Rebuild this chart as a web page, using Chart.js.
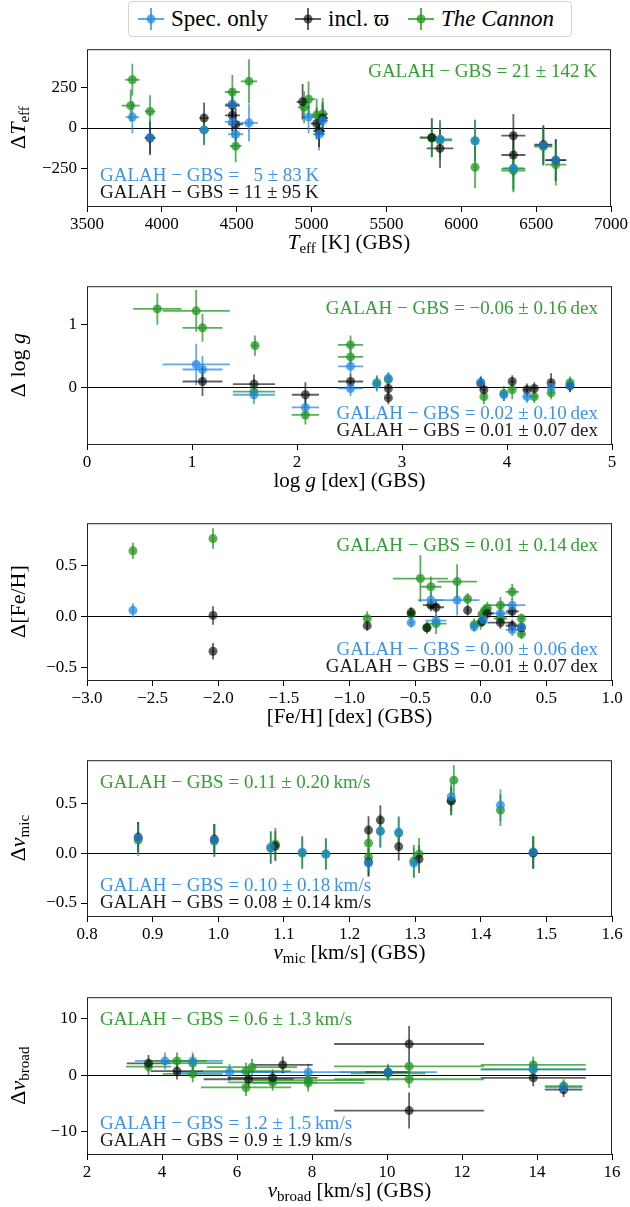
<!DOCTYPE html>
<html>
<head>
<meta charset="utf-8">
<script src="https://cdn.jsdelivr.net/npm/chart.js@4.4.0/dist/chart.umd.min.js"></script>
<style>
  body { margin: 0; background: #fff; width: 630px; height: 1207px; position: relative; overflow: hidden; font-family: "Liberation Serif", serif; }
  canvas { position: absolute; left: 0; }
  #legend { position: absolute; left: 128px; top: 1px; width: 442px; height: 34px; border: 1px solid #d4d4d4; border-radius: 4px; }
  .item { position: absolute; top: 0; height: 34px; display: flex; align-items: center; font-size: 23px; color: #000; }
  .item svg { margin-right: 6px; }
</style>
</head>
<body>
<div id="legend"></div>
<script>
// series names and colours
const seriesNames = ['Spec. only', 'incl. \u03d6', 'The Cannon'];
const seriesItalic = [false, false, true];
const markColors = ['rgba(30,136,229,0.72)', 'rgba(0,0,0,0.62)', 'rgba(34,150,34,0.75)'];
const textColors = ['#3d94e6', '#1a1a1a', '#33a033'];

// [x, y, xerr, yerr]
const teffSpec = [[3803, 68, 45, 100], [3921, -58, 35, 100], [4282, -12, 30, 95], [4471, 149, 45, 100], [4471, 38, 50, 100],
  [4493, -39, 50, 100], [4582, 32, 60, 115], [4980, 68, 45, 100], [5050, -39, 40, 100], [5074, 45, 35, 100],
  [5858, -70, 80, 120], [6092, -79, 10, 130], [6348, -250, 70, 130], [6548, -110, 60, 120], [6631, -200, 70, 130]];
const teffPlx = [[3921, -63, 35, 105], [4282, 62, 30, 97], [4471, 140, 50, 100], [4471, 79, 50, 100], [4493, 22, 50, 100],
  [4940, 163, 40, 110], [5034, 28, 40, 100], [5050, -18, 40, 100], [5074, 62, 35, 100], [5803, -59, 80, 120],
  [5858, -127, 89, 120], [6348, -48, 80, 135], [6348, -168, 80, 135], [6548, -103, 60, 120], [6631, -200, 70, 130]];
const teffCannon = [[3803, 300, 48, 100], [3792, 139, 60, 100], [3921, 103, 35, 100], [4282, -12, 30, 90], [4471, 224, 50, 106],
  [4493, -113, 40, 100], [4582, 290, 55, 138], [4950, 129, 40, 100], [4980, 179, 45, 110], [5034, 82, 40, 100],
  [5074, 88, 35, 100], [5803, -62, 80, 120], [5858, -77, 80, 120], [6092, -79, 10, 130], [6092, -244, 10, 130],
  [6348, -254, 80, 135], [6348, -265, 80, 135], [6548, -115, 60, 120], [6631, -228, 70, 130]];

const loggSpec = [[1.04, 0.36, 0.32, 0.33], [1.10, 0.28, 0.19, 0.22], [1.59, -0.12, 0.2, 0.15], [2.08, -0.32, 0.13, 0.15],
  [2.51, 0.33, 0.12, 0.12], [2.51, -0.02, 0.12, 0.12], [2.76, 0.05, 0.03, 0.12], [2.87, 0.14, 0.02, 0.1],
  [3.75, 0.08, 0.02, 0.1], [3.97, -0.12, 0.03, 0.1], [4.19, -0.15, 0.03, 0.1], [4.42, 0.0, 0.02, 0.1], [4.60, 0.03, 0.02, 0.1]];
const loggPlx = [[1.10, 0.09, 0.19, 0.23], [1.59, 0.05, 0.2, 0.15], [2.08, -0.12, 0.13, 0.2], [2.51, 0.09, 0.12, 0.12],
  [2.87, -0.02, 0.02, 0.1], [2.87, -0.17, 0.02, 0.1], [3.75, 0.06, 0.02, 0.1], [3.78, -0.04, 0.02, 0.1],
  [4.05, 0.09, 0.02, 0.1], [4.19, -0.04, 0.03, 0.1], [4.26, -0.02, 0.03, 0.1], [4.42, 0.07, 0.02, 0.15], [4.60, 0.02, 0.02, 0.1]];
const loggCannon = [[0.67, 1.24, 0.23, 0.25], [1.04, 1.21, 0.32, 0.33], [1.10, 0.94, 0.19, 0.22], [1.60, 0.66, 0.03, 0.16],
  [1.59, -0.07, 0.2, 0.12], [2.08, -0.44, 0.13, 0.15], [2.51, 0.67, 0.12, 0.15], [2.51, 0.48, 0.12, 0.12],
  [2.76, 0.07, 0.03, 0.12], [2.87, 0.12, 0.02, 0.1], [3.78, -0.15, 0.02, 0.12], [3.97, -0.1, 0.03, 0.12],
  [4.05, -0.04, 0.02, 0.15], [4.26, -0.15, 0.03, 0.1], [4.42, -0.09, 0.02, 0.1], [4.60, 0.07, 0.02, 0.1]];

const fehSpec = [[-2.65, 0.06, 0.01, 0.07], [-0.53, -0.06, 0.02, 0.05], [-0.38, 0.16, 0.1, 0.08], [-0.34, -0.04, 0.08, 0.06],
  [-0.18, 0.16, 0.17, 0.15], [-0.05, -0.10, 0.02, 0.05], [0.02, -0.03, 0.03, 0.05], [0.15, 0.03, 0.1, 0.06],
  [0.24, 0.11, 0.1, 0.06], [0.24, -0.13, 0.05, 0.06], [0.31, -0.1, 0.02, 0.05]];
const fehPlx = [[-2.04, 0.01, 0.01, 0.09], [-2.04, -0.34, 0.01, 0.08], [-0.865, -0.09, 0.01, 0.05], [-0.53, 0.04, 0.02, 0.05],
  [-0.41, -0.11, 0.02, 0.05], [-0.38, 0.11, 0.06, 0.06], [-0.34, 0.09, 0.06, 0.06], [-0.10, 0.06, 0.01, 0.05],
  [0.01, -0.05, 0.03, 0.05], [0.05, 0.03, 0.05, 0.05], [0.15, -0.06, 0.1, 0.06], [0.24, 0.05, 0.05, 0.06],
  [0.24, -0.09, 0.05, 0.06], [0.31, -0.11, 0.02, 0.05]];
const fehCannon = [[-2.65, 0.64, 0.01, 0.08], [-2.04, 0.76, 0.01, 0.1], [-0.865, -0.02, 0.01, 0.07], [-0.53, 0.02, 0.02, 0.05],
  [-0.46, 0.37, 0.21, 0.23], [-0.41, -0.11, 0.02, 0.06], [-0.38, 0.29, 0.08, 0.1], [-0.34, -0.07, 0.08, 0.1],
  [-0.18, 0.34, 0.15, 0.17], [-0.10, 0.17, 0.02, 0.06], [-0.05, -0.08, 0.02, 0.06], [0.00, -0.06, 0.03, 0.07],
  [0.01, 0.02, 0.03, 0.06], [0.03, 0.06, 0.03, 0.06], [0.05, 0.08, 0.03, 0.06], [0.15, 0.11, 0.1, 0.08],
  [0.15, -0.02, 0.05, 0.06], [0.24, 0.24, 0.05, 0.08], [0.31, -0.02, 0.02, 0.05], [0.31, -0.17, 0.02, 0.05]];

const vmicSpec = [[0.878, 0.15, 0, 0.16], [0.994, 0.13, 0, 0.16], [1.08, 0.06, 0, 0.16], [1.128, 0.01, 0, 0.16],
  [1.164, -0.01, 0, 0.16], [1.229, -0.10, 0, 0.14], [1.247, 0.22, 0, 0.17], [1.275, 0.21, 0, 0.16],
  [1.298, -0.10, 0, 0.15], [1.355, 0.565, 0, 0.15], [1.43, 0.48, 0, 0.16], [1.48, 0.01, 0, 0.16]];
const vmicPlx = [[0.878, 0.16, 0, 0.15], [0.994, 0.14, 0, 0.15], [1.087, 0.07, 0, 0.15], [1.229, 0.23, 0, 0.14],
  [1.229, -0.09, 0, 0.14], [1.247, 0.33, 0, 0.15], [1.275, 0.065, 0, 0.14], [1.306, -0.06, 0, 0.14],
  [1.355, 0.52, 0, 0.14], [1.48, 0.0, 0, 0.16]];
const vmicCannon = [[0.878, 0.13, 0, 0.16], [0.994, 0.12, 0, 0.16], [1.08, 0.05, 0, 0.16], [1.087, 0.09, 0, 0.16],
  [1.128, 0.0, 0, 0.16], [1.164, -0.01, 0, 0.15], [1.229, 0.10, 0, 0.15], [1.229, -0.04, 0, 0.15],
  [1.247, 0.22, 0, 0.16], [1.275, 0.20, 0, 0.16], [1.298, -0.08, 0, 0.16], [1.306, -0.01, 0, 0.16],
  [1.355, 0.53, 0, 0.15], [1.359, 0.73, 0, 0.15], [1.43, 0.43, 0, 0.16], [1.48, 0.01, 0, 0.16]];

const vbroadSpec = [[4.08, 2.5, 0.8, 1.5], [4.82, 2.5, 0.8, 1.5], [5.80, 0.5, 1.5, 1.5], [7.90, 0.5, 1.8, 1.5],
  [10.03, 0.5, 1.3, 1.5], [13.9, 1.0, 1.4, 1.5], [14.71, -2.2, 0.5, 1.2]];
const vbroadPlx = [[3.64, 2.07, 0.58, 1.5], [4.40, 0.7, 0.7, 1.5], [6.31, -0.75, 1.2, 1.5], [6.95, -0.5, 1.2, 1.5],
  [7.22, 1.8, 0.8, 1.5], [10.03, 0.5, 0.6, 1.2], [10.59, 5.5, 2.0, 3.2], [10.59, -6.3, 2.0, 3.2],
  [13.9, -0.5, 1.4, 1.5], [14.71, -2.6, 0.5, 1.3]];
const vbroadCannon = [[3.64, 1.5, 0.6, 1.5], [4.40, 2.5, 0.8, 1.5], [4.82, 2.1, 0.8, 1.5], [4.82, 0.2, 0.8, 1.5],
  [6.24, 0.7, 1.2, 1.5], [6.24, -2.2, 1.2, 1.5], [6.40, 1.4, 1.2, 1.5], [6.95, -1.3, 1.2, 1.5],
  [7.90, -0.9, 1.5, 1.5], [7.90, -1.4, 1.5, 1.5], [10.03, 0.3, 1.0, 1.2], [10.59, 1.55, 2.0, 1.5],
  [10.59, -0.75, 2.0, 1.5], [13.9, 1.8, 1.4, 1.5], [13.9, 1.0, 1.4, 1.5], [14.71, -1.95, 0.5, 1.2]];

// ticks
const teffTicksX = [3500, 4000, 4500, 5000, 5500, 6000, 6500, 7000];
const teffTicksY = [-250, 0, 250];
const loggTicksX = [0, 1, 2, 3, 4, 5];
const loggTicksY = [0, 1];
const fehTicksX = [-3.0, -2.5, -2.0, -1.5, -1.0, -0.5, 0.0, 0.5, 1.0];
const fehTicksY = [-0.5, 0.0, 0.5];
const vmicTicksX = [0.8, 0.9, 1.0, 1.1, 1.2, 1.3, 1.4, 1.5, 1.6];
const vmicTicksY = [-0.5, 0.0, 0.5];
const vbroadTicksX = [2, 4, 6, 8, 10, 12, 14, 16];
const vbroadTicksY = [-10, 0, 10];

// annotation texts: cannon, spec, plx
const teffNotes = ['GALAH \u2212 GBS = 21 \u00b1 142\u2009K', 'GALAH \u2212 GBS =   5 \u00b1 83\u2009K', 'GALAH \u2212 GBS = 11 \u00b1 95\u2009K'];
const loggNotes = ['GALAH \u2212 GBS = \u22120.06 \u00b1 0.16\u2009dex', 'GALAH \u2212 GBS = 0.02 \u00b1 0.10\u2009dex', 'GALAH \u2212 GBS = 0.01 \u00b1 0.07\u2009dex'];
const fehNotes = ['GALAH \u2212 GBS = 0.01 \u00b1 0.14\u2009dex', 'GALAH \u2212 GBS = 0.00 \u00b1 0.06\u2009dex', 'GALAH \u2212 GBS = \u22120.01 \u00b1 0.07\u2009dex'];
const vmicNotes = ['GALAH \u2212 GBS = 0.11 \u00b1 0.20\u2009km/s', 'GALAH \u2212 GBS = 0.10 \u00b1 0.18\u2009km/s', 'GALAH \u2212 GBS = 0.08 \u00b1 0.14\u2009km/s'];
const vbroadNotes = ['GALAH \u2212 GBS = 0.6 \u00b1 1.3\u2009km/s', 'GALAH \u2212 GBS = 1.2 \u00b1 1.5\u2009km/s', 'GALAH \u2212 GBS = 0.9 \u00b1 1.9\u2009km/s'];

const FONT = '"Liberation Serif", "DejaVu Serif", serif';

// legend
const legendEl = document.getElementById('legend');
[8, 165, 278].forEach((left, i) => {
  const it = document.createElement('div');
  it.className = 'item';
  it.style.left = left + 'px';
  const c = markColors[i];
  it.innerHTML = '<svg width="28" height="26"><line x1="1" y1="13" x2="27" y2="13" stroke="' + c + '" stroke-width="2"/>' +
    '<line x1="14" y1="2" x2="14" y2="24" stroke="' + c + '" stroke-width="2"/><circle cx="14" cy="13" r="4.5" fill="' + c + '"/></svg>' +
    '<span style="font-style:' + (seriesItalic[i] ? 'italic' : 'normal') + '">' + seriesNames[i] + '</span>';
  legendEl.appendChild(it);
});

function fmt(v, dec) {
  return (v < 0 ? '\u2212' : '') + Math.abs(v).toFixed(dec);
}

// rich text: parts = [[text, style]] with style '' | 'i' | 's'
function partFont(style, size) {
  if (style === 's') return Math.round(size * 0.7) + 'px ' + FONT;
  return (style === 'i' ? 'italic ' : '') + size + 'px ' + FONT;
}
function drawRich(ctx, parts, x, y, size, align) {
  let w = 0;
  parts.forEach(([t, s]) => { ctx.font = partFont(s, size); w += ctx.measureText(t).width; });
  let cx = align === 'center' ? x - w / 2 : (align === 'right' ? x - w : x);
  ctx.textAlign = 'left';
  ctx.textBaseline = 'middle';
  parts.forEach(([t, s]) => {
    ctx.font = partFont(s, size);
    ctx.fillText(t, cx, s === 's' ? y + size * 0.28 : y);
    cx += ctx.measureText(t).width;
  });
}

const errorBars = {
  id: 'errorBars',
  beforeDatasetsDraw(chart) {
    const { ctx, chartArea: a, scales: { x, y } } = chart;
    ctx.save();
    ctx.beginPath();
    ctx.rect(a.left, a.top, a.right - a.left, a.bottom - a.top);
    ctx.clip();
    // zero line
    const y0 = Math.round(y.getPixelForValue(0)) + 0.5;
    ctx.strokeStyle = '#000';
    ctx.lineWidth = 1.2;
    ctx.beginPath();
    ctx.moveTo(a.left, y0);
    ctx.lineTo(a.right, y0);
    ctx.stroke();
    chart.data.datasets.forEach(ds => {
      ctx.strokeStyle = ds.borderColor;
      ctx.lineWidth = 1.8;
      ds.data.forEach(p => {
        const px = x.getPixelForValue(p.x), py = y.getPixelForValue(p.y);
        ctx.beginPath();
        if (p.xe) {
          ctx.moveTo(x.getPixelForValue(p.x - p.xe), py);
          ctx.lineTo(x.getPixelForValue(p.x + p.xe), py);
        }
        if (p.ye) {
          ctx.moveTo(px, y.getPixelForValue(p.y - p.ye));
          ctx.lineTo(px, y.getPixelForValue(p.y + p.ye));
        }
        ctx.stroke();
      });
    });
    ctx.restore();
  }
};

const panelText = {
  id: 'panelText',
  afterDraw(chart) {
    const o = chart.options.plugins.panelText;
    const { ctx, chartArea: a } = chart;
    ctx.save();
    ctx.strokeStyle = '#222';
    ctx.lineWidth = 1;
    ctx.strokeRect(a.left + 0.5, a.top + 0.5, a.right - a.left - 1, a.bottom - a.top);
    ctx.fillStyle = '#000';
    drawRich(ctx, o.xTitle, (a.left + a.right) / 2, a.bottom + 37, 21, 'center');
    ctx.save();
    ctx.translate(19, (a.top + a.bottom) / 2);
    ctx.rotate(-Math.PI / 2);
    drawRich(ctx, o.yTitle, 0, 0, 22, 'center');
    ctx.restore();
    const gx = o.topAlign === 'right' ? a.right - 14 : a.left + 13;
    const bx = o.bottomAlign === 'right' ? a.right - 14 : a.left + 13;
    ctx.fillStyle = textColors[2];
    drawRich(ctx, [[o.notes[0], '']], gx, a.top + 23, 19, o.topAlign);
    ctx.fillStyle = textColors[0];
    drawRich(ctx, [[o.notes[1], '']], bx, a.bottom - 30, 19, o.bottomAlign);
    ctx.fillStyle = textColors[1];
    drawRich(ctx, [[o.notes[2], '']], bx, a.bottom - 13, 19, o.bottomAlign);
    ctx.restore();
  }
};

function makePanel(cfg) {
  const cv = document.createElement('canvas');
  const h = cfg.bottom - cfg.top + 65;
  cv.width = 630;
  cv.height = h;
  cv.style.top = (cfg.top - 10) + 'px';
  cv.style.width = '630px';
  cv.style.height = h + 'px';
  document.body.appendChild(cv);
  const tickFont = { family: FONT, size: 17 };
  new Chart(cv.getContext('2d'), {
    type: 'scatter',
    data: {
      datasets: cfg.series.map((arr, i) => ({
        label: seriesNames[i],
        data: arr.map(([x, y, xe, ye]) => ({ x, y, xe, ye })),
        backgroundColor: markColors[i],
        borderColor: markColors[i],
        pointRadius: 4.5,
        pointBorderWidth: 0
      }))
    },
    options: {
      responsive: false,
      animation: false,
      events: [],
      layout: { padding: { left: 0, right: 18, top: 10, bottom: 0 } },
      plugins: {
        legend: { display: false },
        tooltip: { enabled: false },
        panelText: { xTitle: cfg.xTitle, yTitle: cfg.yTitle, notes: cfg.notes, topAlign: cfg.topAlign, bottomAlign: cfg.bottomAlign }
      },
      scales: {
        x: {
          type: 'linear', min: cfg.xTicks[0], max: cfg.xTicks[cfg.xTicks.length - 1],
          afterBuildTicks: s => { s.ticks = cfg.xTicks.map(v => ({ value: v })); },
          afterFit: s => { s.height = 55; },
          ticks: { callback: v => fmt(v, cfg.xDec), font: tickFont, color: '#000', padding: 2, maxRotation: 0, minRotation: 0, autoSkip: false },
          grid: { drawOnChartArea: false, drawTicks: true, tickLength: 6, tickColor: '#000', tickWidth: 1 },
          border: { display: false }
        },
        y: {
          type: 'linear', min: cfg.yMin, max: cfg.yMax,
          afterBuildTicks: s => { s.ticks = cfg.yTicks.map(v => ({ value: v })); },
          afterFit: s => { s.width = 87; },
          ticks: { callback: v => fmt(v, cfg.yDec), font: tickFont, color: '#000', padding: 4 },
          grid: { drawOnChartArea: false, drawTicks: true, tickLength: 6, tickColor: '#000', tickWidth: 1 },
          border: { display: false }
        }
      }
    },
    plugins: [errorBars, panelText]
  });
}

makePanel({
  top: 45, bottom: 206, series: [teffSpec, teffPlx, teffCannon],
  xTicks: teffTicksX, yTicks: teffTicksY, xDec: 0, yDec: 0, yMin: -485, yMax: 490,
  xTitle: [['T', 'i'], ['eff', 's'], [' [K] (GBS)', '']], yTitle: [['\u0394', ''], ['T', 'i'], ['eff', 's']],
  notes: teffNotes, topAlign: 'right', bottomAlign: 'left'
});
makePanel({
  top: 282, bottom: 444, series: [loggSpec, loggPlx, loggCannon],
  xTicks: loggTicksX, yTicks: loggTicksY, xDec: 0, yDec: 0, yMin: -0.9, yMax: 1.6,
  xTitle: [['log ', ''], ['g', 'i'], [' [dex] (GBS)', '']], yTitle: [['\u0394 log ', ''], ['g', 'i']],
  notes: loggNotes, topAlign: 'right', bottomAlign: 'right'
});
makePanel({
  top: 519, bottom: 680, series: [fehSpec, fehPlx, fehCannon],
  xTicks: fehTicksX, yTicks: fehTicksY, xDec: 1, yDec: 1, yMin: -0.62, yMax: 0.91,
  xTitle: [['[Fe/H] [dex] (GBS)', '']], yTitle: [['\u0394[Fe/H]', '']],
  notes: fehNotes, topAlign: 'right', bottomAlign: 'right'
});
makePanel({
  top: 756, bottom: 916, series: [vmicSpec, vmicPlx, vmicCannon],
  xTicks: vmicTicksX, yTicks: vmicTicksY, xDec: 1, yDec: 1, yMin: -0.63, yMax: 0.93,
  xTitle: [['v', 'i'], ['mic', 's'], [' [km/s] (GBS)', '']], yTitle: [['\u0394', ''], ['v', 'i'], ['mic', 's']],
  notes: vmicNotes, topAlign: 'left', bottomAlign: 'left'
});
makePanel({
  top: 993, bottom: 1154, series: [vbroadSpec, vbroadPlx, vbroadCannon],
  xTicks: vbroadTicksX, yTicks: vbroadTicksY, xDec: 0, yDec: 0, yMin: -14, yMax: 13.8,
  xTitle: [['v', 'i'], ['broad', 's'], [' [km/s] (GBS)', '']], yTitle: [['\u0394', ''], ['v', 'i'], ['broad', 's']],
  notes: vbroadNotes, topAlign: 'left', bottomAlign: 'left'
});
</script>
</body>
</html>
